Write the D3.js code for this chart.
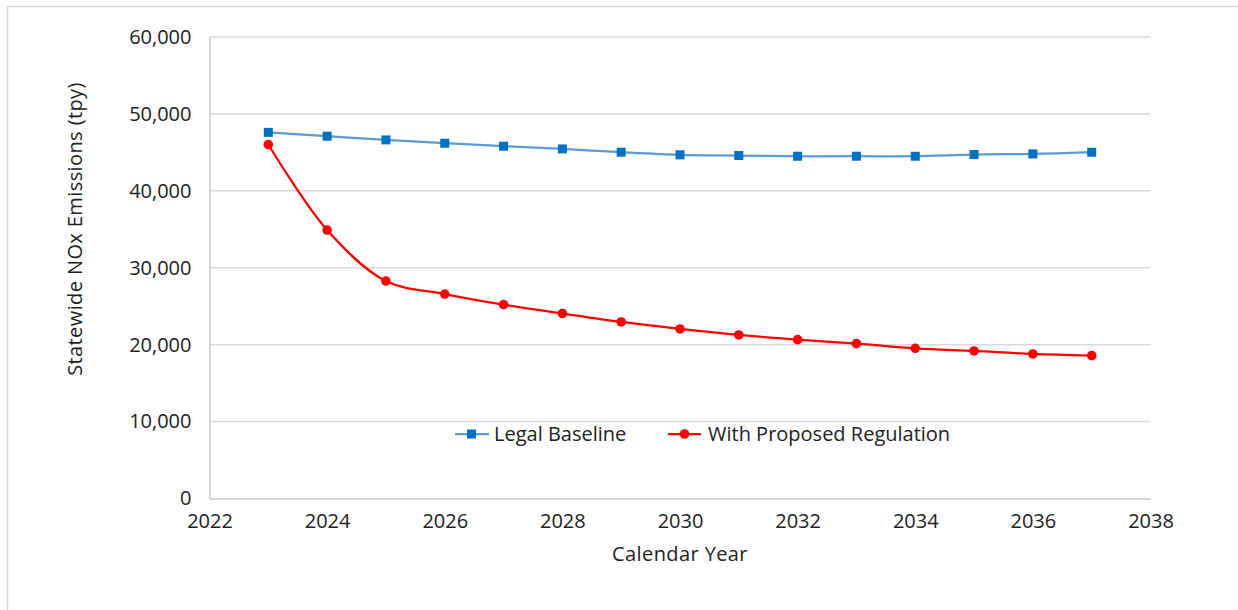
<!DOCTYPE html>
<html>
<head>
<meta charset="utf-8">
<script src="https://cdn.jsdelivr.net/npm/d3@7"></script>
<style>
  html, body { margin: 0; padding: 0; background: #fff; }
  svg { display: block; }
  text { font-family: "Open Sans", Lato, sans-serif; fill: #222; }
</style>
</head>
<body>
<svg id="chart" width="1238" height="610"></svg>
<script>
// Calendar years plotted on the x axis
const years = [2023, 2024, 2025, 2026, 2027, 2028, 2029, 2030, 2031, 2032, 2033, 2034, 2035, 2036, 2037];
// Statewide NOx emissions, tons per year
const legalBaseline = [47600, 47100, 46620, 46190, 45800, 45450, 45020, 44680, 44590, 44500, 44500, 44500, 44720, 44800, 45020];
const withRegulation = [46020, 34900, 28270, 26580, 25200, 24050, 22950, 22040, 21260, 20650, 20130, 19530, 19180, 18790, 18570];
// Axis ticks
const xTicks = [2022, 2024, 2026, 2028, 2030, 2032, 2034, 2036, 2038];
const yTicks = [0, 10000, 20000, 30000, 40000, 50000, 60000];
const seriesNames = ["Legal Baseline", "With Proposed Regulation"];

const FONT = "'Open Sans', Lato, sans-serif";
const FS = "20px";
const svg = d3.select("#chart");

// outer chart frame
svg.append("rect")
  .attr("x", 7.5).attr("y", 6.5)
  .attr("width", 1240).attr("height", 620)
  .attr("fill", "none").attr("stroke", "#d9d9d9").attr("stroke-width", 1.5);

const plotLeft = 209.5, plotRight = 1150.5, plotTop = 37, plotBottom = 498.5;
const x = d3.scaleLinear().domain([2022, 2038]).range([plotLeft, plotRight]);
const y = d3.scaleLinear().domain([0, 60000]).range([plotBottom, plotTop]);

// horizontal gridlines
svg.append("g")
  .selectAll("line")
  .data(yTicks.filter(d => d > 0))
  .join("line")
  .attr("x1", plotLeft).attr("x2", plotRight)
  .attr("y1", d => y(d)).attr("y2", d => y(d))
  .attr("stroke", "#d9d9d9").attr("stroke-width", 1.5);

// y axis
const yAxis = svg.append("g")
  .attr("transform", `translate(${plotLeft},0)`)
  .call(d3.axisLeft(y).tickValues(yTicks).tickSize(0).tickPadding(18)
    .tickFormat(d3.format(",")));
yAxis.select(".domain").attr("stroke", "#c8c8c8").attr("stroke-width", 1.5);
yAxis.selectAll("text").style("font-size", FS).attr("fill", "#222")
  .style("font-family", FONT);

// x axis
const xAxis = svg.append("g")
  .attr("transform", `translate(0,${plotBottom})`)
  .call(d3.axisBottom(x).tickValues(xTicks).tickSize(0).tickPadding(15)
    .tickFormat(d3.format("d")));
xAxis.select(".domain").attr("stroke", "#c8c8c8").attr("stroke-width", 1.5);
xAxis.selectAll("text").style("font-size", FS).attr("fill", "#222")
  .style("font-family", FONT);

// axis titles
svg.append("text")
  .attr("transform", `translate(82,229) rotate(-90)`)
  .attr("text-anchor", "middle")
  .style("font-size", FS)
  .style("letter-spacing", "0.4px")
  .text("Statewide NOx Emissions (tpy)");

svg.append("text")
  .attr("x", 680).attr("y", 561)
  .attr("text-anchor", "middle")
  .style("font-size", FS)
  .style("letter-spacing", "0.4px")
  .text("Calendar Year");

const line = d3.line()
  .x(d => x(d[0]))
  .y(d => y(d[1]))
  .curve(d3.curveCatmullRom.alpha(0.5));

const baseData = years.map((yr, i) => [yr, legalBaseline[i]]);
const regData = years.map((yr, i) => [yr, withRegulation[i]]);

// Legal Baseline series
svg.append("path")
  .datum(baseData)
  .attr("d", line)
  .attr("fill", "none")
  .attr("stroke", "#5b9bd5")
  .attr("stroke-width", 2.25);
svg.append("g").selectAll("rect")
  .data(baseData)
  .join("rect")
  .attr("x", d => x(d[0]) - 4.5)
  .attr("y", d => y(d[1]) - 4.5)
  .attr("width", 9).attr("height", 9)
  .attr("fill", "#0070c0");

// With Proposed Regulation series
svg.append("path")
  .datum(regData)
  .attr("d", line)
  .attr("fill", "none")
  .attr("stroke", "#ff0000")
  .attr("stroke-width", 2.25);
svg.append("g").selectAll("circle")
  .data(regData)
  .join("circle")
  .attr("cx", d => x(d[0]))
  .attr("cy", d => y(d[1]))
  .attr("r", 4.8)
  .attr("fill", "#ff0000");

// legend
const legend = svg.append("g").attr("transform", "translate(0,434)");
const lb = legend.append("g").attr("transform", "translate(455,0)");
lb.append("line").attr("x1", 0).attr("x2", 34).attr("y1", 0).attr("y2", 0)
  .attr("stroke", "#5b9bd5").attr("stroke-width", 2.25);
lb.append("rect").attr("x", 12).attr("y", -4.5).attr("width", 9).attr("height", 9)
  .attr("fill", "#0070c0");
lb.append("text").attr("x", 39).attr("y", 0).attr("dy", "0.35em")
  .style("font-size", FS).text(seriesNames[0]);

const lr = legend.append("g").attr("transform", "translate(668,0)");
lr.append("line").attr("x1", 0).attr("x2", 33).attr("y1", 0).attr("y2", 0)
  .attr("stroke", "#ff0000").attr("stroke-width", 2.25);
lr.append("circle").attr("cx", 16.5).attr("cy", 0).attr("r", 4.8)
  .attr("fill", "#ff0000");
lr.append("text").attr("x", 40).attr("y", 0).attr("dy", "0.35em")
  .style("font-size", FS).text(seriesNames[1]);
</script>
</body>
</html>
